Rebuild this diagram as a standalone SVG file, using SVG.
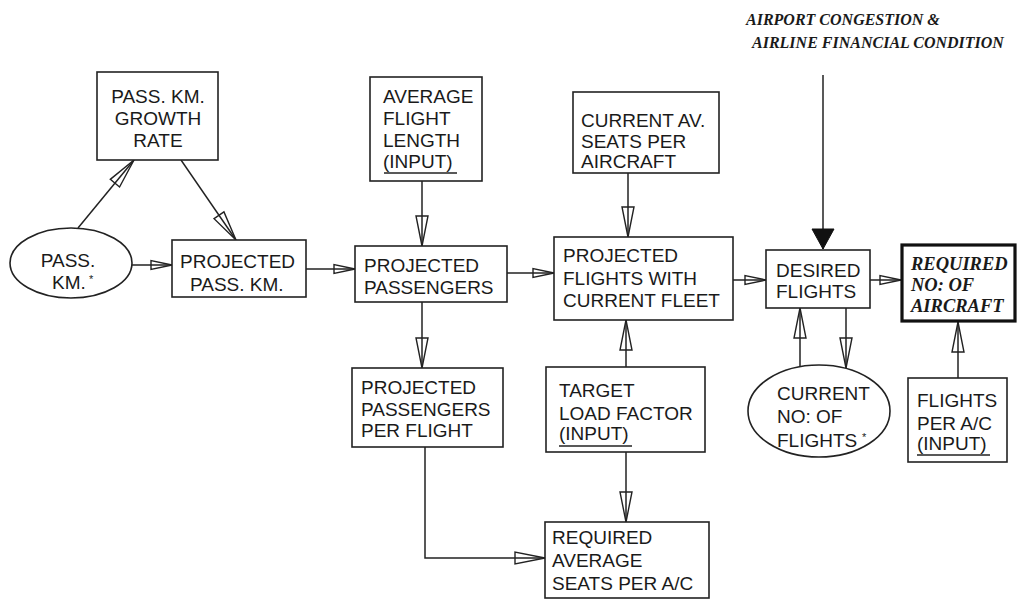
<svg xmlns="http://www.w3.org/2000/svg" width="1017" height="601" viewBox="0 0 1017 601">
<style>
.b{fill:#fff;stroke:#222;stroke-width:1.6}
.bb{fill:#fff;stroke:#111;stroke-width:3.2}
.t{font-family:"Liberation Sans",Arial,sans-serif;font-size:19px;fill:#1a1a1a}
.s{font-family:"Liberation Serif","Times New Roman",serif;font-weight:bold;font-style:italic;fill:#1a1a1a}
.c{fill:none;stroke:#222;stroke-width:1.5}
.u{stroke:#222;stroke-width:1.4}
.a{font-family:"Liberation Sans",Arial,sans-serif;font-size:11px;fill:#1a1a1a}
</style>
<defs>
<marker id="L" markerUnits="userSpaceOnUse" markerWidth="34" markerHeight="16" viewBox="-32 -8 34 16" refX="0" refY="0" orient="auto">
<path d="M0,0 L-30,-6 L-30,6 Z" fill="none" stroke="#222" stroke-width="1.4"/>
</marker>
<marker id="S" markerUnits="userSpaceOnUse" markerWidth="26" markerHeight="12" viewBox="-24 -6 26 12" refX="0" refY="0" orient="auto">
<path d="M0,0 L-21,-4.5 L-21,4.5 Z" fill="none" stroke="#222" stroke-width="1.4"/>
</marker>
<marker id="F" markerUnits="userSpaceOnUse" markerWidth="24" markerHeight="26" viewBox="-22 -13 24 26" refX="0" refY="0" orient="auto">
<path d="M0,0 L-20,-11 L-20,11 Z" fill="#111" stroke="#111" stroke-width="1"/>
</marker>
</defs>
<rect width="1017" height="601" fill="#fff"/>

<g id="connectors">
<line class="c" x1="78" y1="228" x2="134" y2="160" marker-end="url(#L)"/>
<line class="c" x1="181" y1="160" x2="236" y2="240" marker-end="url(#L)"/>
<line class="c" x1="132" y1="265" x2="172" y2="265" marker-end="url(#S)"/>
<line class="c" x1="306" y1="269" x2="355" y2="269" marker-end="url(#S)"/>
<line class="c" x1="422" y1="181" x2="422" y2="246" marker-end="url(#L)"/>
<line class="c" x1="507" y1="273" x2="554" y2="273" marker-end="url(#S)"/>
<line class="c" x1="422" y1="302" x2="422" y2="368" marker-end="url(#L)"/>
<polyline class="c" points="425,447 425,558 545,558" marker-end="url(#L)"/>
<line class="c" x1="628" y1="173" x2="628" y2="237" marker-end="url(#L)"/>
<line class="c" x1="626" y1="367" x2="626" y2="320" marker-end="url(#L)"/>
<line class="c" x1="626" y1="452" x2="626" y2="522" marker-end="url(#L)"/>
<line class="c" x1="733" y1="280" x2="766" y2="280" marker-end="url(#S)"/>
<line class="c" x1="823" y1="75" x2="823" y2="249" stroke-width="1.8" marker-end="url(#F)"/>
<line class="c" x1="870" y1="280" x2="901" y2="280" marker-end="url(#S)"/>
<line class="c" x1="800" y1="367" x2="800" y2="308" marker-end="url(#L)"/>
<line class="c" x1="846" y1="308" x2="846" y2="368" marker-end="url(#L)"/>
<line class="c" x1="958" y1="378" x2="958" y2="322" marker-end="url(#L)"/>
</g>

<g id="title">
<text class="s" font-size="16" x="746" y="25">AIRPORT CONGESTION &amp;</text>
<text class="s" font-size="16" x="752" y="48">AIRLINE FINANCIAL CONDITION</text>
</g>

<g id="growth">
<rect class="b" x="97" y="72" width="121" height="88"/>
<text class="t" text-anchor="middle" x="158" y="103">PASS. KM.</text>
<text class="t" text-anchor="middle" x="158" y="125">GROWTH</text>
<text class="t" text-anchor="middle" x="158" y="147">RATE</text>
</g>

<g id="passkm">
<ellipse class="b" cx="71" cy="263" rx="61" ry="35"/>
<text class="t" text-anchor="middle" x="68" y="267">PASS.</text>
<text class="t" x="52" y="289">KM.</text>
<text class="a" x="89" y="283">*</text>
</g>

<g id="projpasskm">
<rect class="b" x="172" y="240" width="134" height="57"/>
<text class="t" x="180" y="268">PROJECTED</text>
<text class="t" x="190" y="291">PASS. KM.</text>
</g>

<g id="avgflight">
<rect class="b" x="370" y="77" width="112" height="104"/>
<text class="t" x="383" y="103">AVERAGE</text>
<text class="t" x="383" y="125">FLIGHT</text>
<text class="t" x="383" y="147">LENGTH</text>
<text class="t" x="383" y="168">(INPUT)</text>
<line class="u" x1="384" y1="173" x2="457" y2="173"/>
</g>

<g id="projpass">
<rect class="b" x="355" y="246" width="152" height="56"/>
<text class="t" x="364" y="272">PROJECTED</text>
<text class="t" x="364" y="294">PASSENGERS</text>
</g>

<g id="ppf">
<rect class="b" x="352" y="368" width="151" height="79"/>
<text class="t" x="361" y="394">PROJECTED</text>
<text class="t" x="361" y="416">PASSENGERS</text>
<text class="t" x="361" y="437">PER FLIGHT</text>
</g>

<g id="curseats">
<rect class="b" x="573" y="92" width="146" height="81"/>
<text class="t" x="581" y="127">CURRENT AV.</text>
<text class="t" x="581" y="148">SEATS PER</text>
<text class="t" x="581" y="168">AIRCRAFT</text>
</g>

<g id="projflights">
<rect class="b" x="554" y="237" width="179" height="83"/>
<text class="t" x="563" y="262">PROJECTED</text>
<text class="t" x="563" y="285">FLIGHTS WITH</text>
<text class="t" x="563" y="307">CURRENT FLEET</text>
</g>

<g id="target">
<rect class="b" x="546" y="367" width="159" height="85"/>
<text class="t" x="559" y="397">TARGET</text>
<text class="t" x="559" y="420">LOAD FACTOR</text>
<text class="t" x="559" y="440">(INPUT)</text>
<line class="u" x1="559" y1="446" x2="632" y2="446"/>
</g>

<g id="reqseats">
<rect class="b" x="545" y="522" width="164" height="76"/>
<text class="t" x="552" y="544">REQUIRED</text>
<text class="t" x="552" y="567">AVERAGE</text>
<text class="t" x="552" y="590">SEATS PER A/C</text>
</g>

<g id="desired">
<rect class="b" x="766" y="250" width="104" height="58"/>
<text class="t" x="776" y="277">DESIRED</text>
<text class="t" x="776" y="298">FLIGHTS</text>
</g>

<g id="curflights">
<ellipse class="b" cx="819" cy="411" rx="71" ry="46"/>
<text class="t" x="777" y="400">CURRENT</text>
<text class="t" x="777" y="423">NO: OF</text>
<text class="t" x="777" y="447">FLIGHTS</text>
<text class="a" x="862" y="441">*</text>
</g>

<g id="reqaircraft">
<rect class="bb" x="902" y="245" width="113" height="76"/>
<text class="s" font-size="18.5" x="911" y="270">REQUIRED</text>
<text class="s" font-size="18.5" x="911" y="291">NO: OF</text>
<text class="s" font-size="18.5" x="911" y="312">AIRCRAFT</text>
</g>

<g id="flightsperac">
<rect class="b" x="908" y="378" width="99" height="84"/>
<text class="t" x="917" y="407">FLIGHTS</text>
<text class="t" x="917" y="430">PER A/C</text>
<text class="t" x="917" y="450">(INPUT)</text>
<line class="u" x1="917" y1="455" x2="990" y2="455"/>
</g>
</svg>
